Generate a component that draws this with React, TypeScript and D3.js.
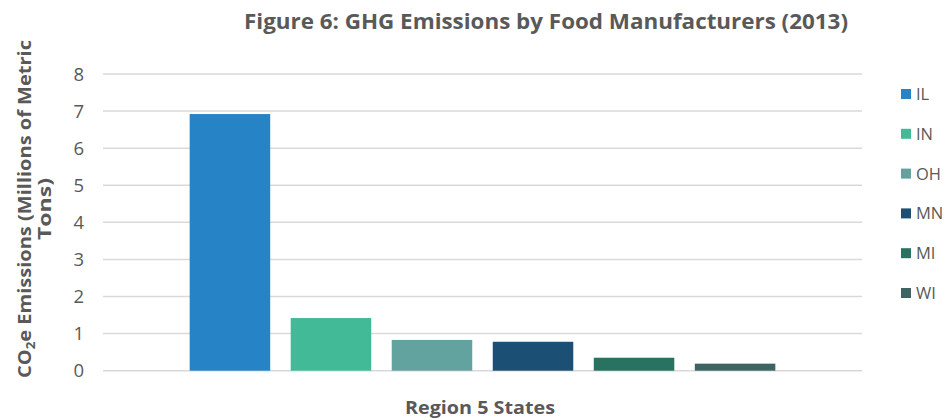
import React from "react";
import * as d3 from "d3";

// Region 5 food-manufacturer emissions, millions of metric tons CO2e (2013)
const states = ["IL", "IN", "OH", "MN", "MI", "WI"];
const emissions = [6.92, 1.42, 0.83, 0.78, 0.35, 0.19];
const stateColors = ["#2683C6", "#42BA97", "#62A39F", "#1C4F74", "#297160", "#3E6462"];
const yTicks = [0, 1, 2, 3, 4, 5, 6, 7, 8];
const categories = ["Region 5 States"];

const W = 948;
const H = 420;
const FONT = "'Open Sans', 'Liberation Sans', sans-serif";
const GREY = "#595959";

export default function App() {
  const plotLeft = 103;
  const plotRight = 862;
  const plotTop = 74;
  const plotBottom = 370.7;

  const y = d3.scaleLinear().domain([0, 8]).range([plotBottom, plotTop]);

  // one category holding a cluster of six series
  const x0 = d3
    .scaleBand<string>()
    .domain(categories)
    .range([plotLeft, plotRight])
    .paddingInner(0)
    .paddingOuter(0.148);
  const x1 = d3
    .scaleBand<string>()
    .domain(states)
    .range([0, x0.bandwidth()])
    .paddingInner(0.203)
    .paddingOuter(0);

  const groupX = x0(categories[0]) ?? 0;
  const yMid = 209;

  return (
    <svg
      width={W}
      height={H}
      style={{ position: "fixed", left: 0, top: 0, background: "#fff" }}
      fontFamily={FONT}
    >
      <rect width={W} height={H} fill="#fff" />

      {/* title */}
      <text
        x={546}
        y={29}
        textAnchor="middle"
        fontSize={20.5}
        fontWeight={700}
        fill={GREY}
        textLength={604}
        lengthAdjust="spacingAndGlyphs"
      >
        Figure 6: GHG Emissions by Food Manufacturers (2013)
      </text>

      {/* gridlines */}
      {yTicks.map((t) => (
        <line
          key={`g${t}`}
          x1={plotLeft}
          x2={plotRight}
          y1={y(t)}
          y2={y(t)}
          stroke="#D9D9D9"
          strokeWidth={1.5}
        />
      ))}

      {/* tick labels */}
      {yTicks.map((t) => (
        <text
          key={`t${t}`}
          x={84}
          y={y(t)}
          dy="0.36em"
          textAnchor="end"
          fontSize={18.5}
          fill={GREY}
        >
          {d3.format("d")(t)}
        </text>
      ))}

      {/* bars */}
      {states.map((s, i) => (
        <rect
          key={s}
          x={groupX + (x1(s) ?? 0)}
          y={y(emissions[i])}
          width={x1.bandwidth()}
          height={y(0) - y(emissions[i])}
          fill={stateColors[i]}
        />
      ))}

      {/* y axis title */}
      <g transform={`translate(30.5, ${yMid}) rotate(-90)`}>
        <text
          x={0}
          y={0}
          textAnchor="middle"
          fontSize={18}
          fontWeight={700}
          fill={GREY}
          textLength={338}
          lengthAdjust="spacingAndGlyphs"
        >
          CO
          <tspan fontSize={12} dy={4}>2</tspan>
          <tspan dy={-4}>e Emissions (Millions of Metric</tspan>
        </text>
        <text
          x={0}
          y={20}
          textAnchor="middle"
          fontSize={18}
          fontWeight={700}
          fill={GREY}
          textLength={62}
          lengthAdjust="spacingAndGlyphs"
        >
          Tons)
        </text>
      </g>

      {/* x axis title */}
      <text
        x={480}
        y={414}
        textAnchor="middle"
        fontSize={17.5}
        fontWeight={700}
        fill={GREY}
        textLength={150}
        lengthAdjust="spacingAndGlyphs"
      >
        {categories[0]}
      </text>

      {/* legend */}
      {states.map((s, i) => {
        const cy = 94 + i * 39.8;
        return (
          <g key={`l${s}`}>
            <rect x={901} y={cy - 5} width={10} height={10} fill={stateColors[i]} />
            <text x={916} y={cy} dy="0.36em" fontSize={16.5} fill={GREY}>
              {s}
            </text>
          </g>
        );
      })}
    </svg>
  );
}
